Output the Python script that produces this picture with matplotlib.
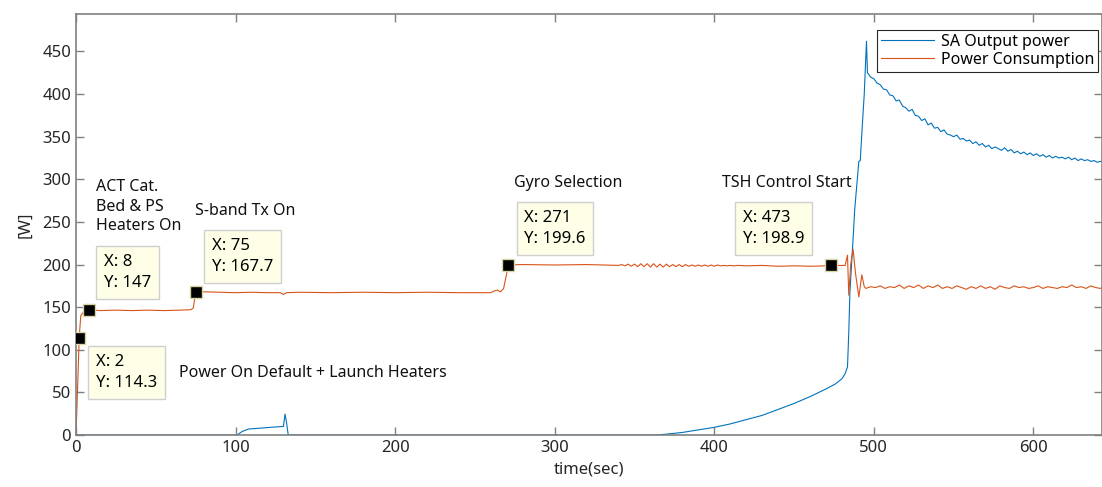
import matplotlib.pyplot as plt

plt.rcParams['font.family'] = ['Noto Sans', 'DejaVu Sans']

# ---- data ----
sa_time = [0, 100, 101, 104, 108, 115, 122, 128, 130, 131, 132, 133, 140, 250, 363,
           370, 380, 390, 400, 410, 420, 430, 440, 450, 460, 470, 476, 480, 482, 483.5,
           484.3, 485, 487, 488, 490.6, 491.5, 493, 494, 495.4, 496,
           498, 500, 502, 504, 506, 508, 510, 512, 514, 516, 518, 520, 522, 524, 526,
           528, 530, 532, 534, 536, 538, 540, 542, 544, 546, 548, 550, 552, 554, 556,
           558, 560, 562, 564, 566, 568, 570, 572, 574, 576, 578, 580, 582, 584, 586,
           588, 590, 592, 594, 596, 598, 600, 602, 604, 606, 608, 610, 612, 614, 616,
           618, 620, 622, 624, 626, 628, 630, 632, 634, 636, 638, 640, 642, 643]
sa_power = [0, 0, 0, 4, 7, 8, 9, 9.8, 10, 24.5, 14, 0, 0, 0, 0,
            1, 3, 6, 9, 13, 18, 23, 30, 37, 45, 54, 60, 66, 72, 80,
            120, 167, 230, 264, 321, 322, 370, 400, 462, 425,
            420, 418, 413, 411, 406, 405, 399, 398, 392, 393, 386, 384, 380, 382, 375,
            374, 369, 371, 364, 366, 360, 361, 356, 358, 353, 352, 350, 352, 347, 348,
            345, 346, 342, 344, 340, 342, 338, 340, 336, 338, 336, 334, 337, 333, 335,
            331, 333, 330, 332, 329, 331, 328, 330, 327, 329, 326, 328, 325, 327, 325,
            326, 324, 326, 323, 325, 322, 324, 322, 323, 321, 322, 320, 321, 321]

pc_time = [0, 1, 2, 3, 5, 8, 15, 25, 35, 45, 55, 65, 72, 73.5, 75,
           80, 90, 100, 110, 120, 128, 130, 132, 140, 160, 180, 200, 220, 240, 260,
           262, 264, 266, 268, 270, 271, 280, 300, 320, 330, 340, 342, 344, 346, 348,
           350, 352, 354, 356, 358, 360, 362, 364, 366, 368, 370, 372, 374, 376, 378,
           380, 382, 384, 386, 388, 390, 392, 394, 396, 398, 400, 402, 404, 406, 408,
           410, 412, 415, 420, 430, 440, 450, 460, 470, 473, 478, 482,
           483.5, 484.3, 485.5, 487, 488.5, 490.6, 492.5, 494,
           495, 498, 501, 504, 507, 510, 513, 516, 519, 522, 525, 528, 531, 534, 537,
           540, 543, 546, 549, 552, 555, 558, 561, 564, 567, 570, 573, 576, 579, 582,
           585, 588, 591, 594, 597, 600, 603, 606, 609, 612, 615, 618, 621, 624, 627,
           630, 633, 636, 639, 642, 643]
pc_power = [0, 55, 114.3, 140, 145, 147, 146, 146.5, 146, 146.5, 146, 146.5, 147, 149, 167.7,
            168, 167.5, 167, 167.5, 167, 167, 165, 167, 167.5, 167, 167.5, 167, 167.5, 167, 167,
            169, 170, 168, 172, 190, 199.6, 200, 199.5, 200, 199.5, 199, 200, 198.5, 200.5, 198,
            200.5, 197.5, 201, 197.5, 201, 197, 201, 197, 200.5, 197, 200.5, 197.5, 200, 197.5, 200,
            197.5, 200, 198, 199.5, 198, 199.5, 198, 199.5, 198, 199.5, 198, 199.5, 198.5, 199, 198.5,
            199, 198.5, 199, 198.5, 199, 198, 198.5, 198, 198.5, 198.9, 199, 199,
            211, 164, 200, 218, 190, 162, 188, 174,
            172, 174, 173, 175, 172, 174, 173, 176, 172, 175, 173, 176, 172, 175, 173,
            176, 172, 174, 172, 175, 173, 171, 174, 172, 175, 172, 174, 171, 175, 173,
            172, 175, 173, 174, 172, 173, 175, 172, 174, 173, 172, 174, 173, 176, 173,
            174, 172, 175, 173, 172, 173]

# data tips: x, y, label position
tip_x = [2, 8, 75, 271, 473]
tip_y = [114.3, 147, 167.7, 199.6, 198.9]
tip_tx = [12.5, 17.5, 85.2, 281.0, 417.7]
tip_ty = [95.2, 212.7, 231.5, 264.4, 264.4]

notes = ["ACT Cat.\nBed & PS\nHeaters On", "S-band Tx On", "Gyro Selection",
         "TSH Control Start", "Power On Default + Launch Heaters"]
note_x = [12.5, 74.5, 274.5, 405.0, 64.5]
note_y = [300.5, 272.5, 304.5, 304.5, 82.5]

fig = plt.figure(figsize=(11.02, 4.87), dpi=100)
ax = fig.add_axes([76 / 1102, 52 / 487, 1026 / 1102, 421 / 487])

ax.plot(sa_time, sa_power, color='#0072BD', lw=0.8, label='SA Output power')
ax.plot(pc_time, pc_power, color='#D95319', lw=0.8, label='Power Consumption')

for i in range(len(tip_x)):
    ax.plot(tip_x[i], tip_y[i], 's', ms=8.5, mfc='black', mec='#d8d4a8', mew=1, zorder=5)
    ax.text(tip_tx[i], tip_ty[i], "X: {}\nY: {}".format(tip_x[i], tip_y[i]),
            ha='left', va='top', fontsize=12, linespacing=1.45, color='black',
            bbox=dict(boxstyle='square,pad=0.45', fc='#FFFFE8', ec='#CFCFCF', lw=1),
            zorder=6)

for i in range(len(notes)):
    ax.text(note_x[i], note_y[i], notes[i], ha='left', va='top', fontsize=11.5,
            linespacing=1.3, color='#111111')

ax.set_xlim(0, 643)
ax.set_ylim(0, 494)
ax.set_xticks([0, 100, 200, 300, 400, 500, 600])
ax.set_yticks([0, 50, 100, 150, 200, 250, 300, 350, 400, 450])
ax.tick_params(direction='in', length=6, width=1, color='#808080', labelcolor='#262626',
               labelsize=12, top=True, right=True)
for s in ax.spines.values():
    s.set_color('#808080')
    s.set_linewidth(1.2)

ax.set_xlabel('time(sec)', fontsize=12, color='#262626', labelpad=4)
ax.set_ylabel('[W]', fontsize=12, color='#262626', labelpad=6)

leg = ax.legend(loc='upper right', bbox_to_anchor=(0.996, 0.962), borderaxespad=0,
                fontsize=11.5, fancybox=False, framealpha=1, edgecolor='#262626',
                handlelength=3.3, borderpad=0.25, labelspacing=0.1, handletextpad=0.4)
leg.get_frame().set_linewidth(0.8)

fig.savefig('out.png', dpi=100)
